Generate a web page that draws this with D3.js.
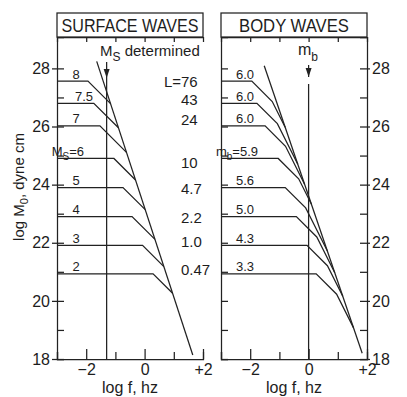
<!DOCTYPE html>
<html>
<head>
<meta charset="utf-8">
<script src="https://d3js.org/d3.v7.min.js"></script>
<style>
  body { margin: 0; background: #fff; }
  svg text { font-family: "Liberation Sans", Arial, sans-serif; fill: #1d1d1d; }
  .ln { fill: none; stroke: #222; stroke-width: 1.25; }
</style>
</head>
<body>
<svg class="chart"></svg>
<script>
// log M0 (dyne cm) of each spectrum, same set in both panels
const levels = [27.56, 26.8, 26.02, 24.9, 23.9, 22.9, 21.91, 20.93];

// surface waves
const surfaceMags = ['8', '7.5', '7', '6', '5', '4', '3', '2'];
const surfaceCorners = [-1.94, -1.74, -1.53, -1.05, -0.74, -0.43, -0.07, 0.29];
const faultLengths = ['76', '43', '24', '10', '4.7', '2.2', '1.0', '0.47'];
const surfaceEnvelope = [[-1.64, 28.24], [1.65, 18.14]];
const surfaceMeasureF = -1.3;

// body waves
const bodyMags = ['6.0', '6.0', '6.0', '5.9', '5.6', '5.0', '4.3', '3.3'];
const bodyCorners = [-1.945, -1.77, -1.49, -1.04, -0.8, -0.42, -0.055, 0.26];
const bodySecondCorner = 0.7; // log f2 - log f1
const bodyEnvelope = [[-1.52, 28.09], [1.835, 18.2]];
const bodyMeasureF = 0;

const xTicks = [-3, -2, -1, 0, 1, 2];
const yTicks = d3.range(18, 29);

const width = 407, height = 397;
const svg = d3.select('.chart').attr('width', width).attr('height', height);

const y = d3.scaleLinear().domain([18, 29.08]).range([359, 37]);

// walk a spectrum: flat, then the given slopes, until it meets the envelope
function spectrum(level, f1, segs, env){
  const k = (env[1][1] - env[0][1]) / (env[1][0] - env[0][0]);
  const pts = [[-3, level], [f1, level]];
  let f = f1, m = level;
  for (const s of segs) {
    const xi = (env[0][1] - k * env[0][0] - m + s.slope * f) / (s.slope - k);
    if (xi <= s.until) {
      pts.push([xi, m + s.slope * (xi - f)]);
      return pts;
    }
    m = m + s.slope * (s.until - f);
    f = s.until;
    pts.push([f, m]);
  }
  return pts;
}

function drawPanel(x0, x1, opts){
  const x = d3.scaleLinear().domain([-3, 2]).range([x0, x1]);
  const g = svg.append('g');
  const line = d3.line().x(d => x(d[0])).y(d => y(d[1]));

  // title box
  g.append('rect').attr('class', 'ln').attr('stroke-width', 1.3)
    .attr('x', x0).attr('y', 13).attr('width', x1 - x0).attr('height', 24);
  g.append('text').attr('x', (x0 + x1) / 2).attr('y', 32)
    .attr('text-anchor', 'middle').attr('font-size', 18)
    .attr('textLength', opts.titleLen).attr('lengthAdjust', 'spacingAndGlyphs')
    .text(opts.title);

  // bottom axis
  const bottom = g.append('g').attr('transform', `translate(0,${y(18)})`)
    .call(d3.axisBottom(x).tickValues(xTicks).tickSizeOuter(0).tickSize(-7).tickPadding(5)
      .tickFormat(d => d === -2 ? '\u22122' : d === 0 ? '0' : d === 2 ? '+2' : ''));
  bottom.selectAll('.tick line').attr('y2', d => d % 2 === 0 ? -10 : -7);
  bottom.selectAll('text').attr('font-size', 16).attr('fill', '#1d1d1d');

  // top axis
  g.append('g').attr('transform', `translate(0,${y.range()[1]})`)
    .call(d3.axisTop(x).tickValues([-2, -1, 0, 1]).tickSizeOuter(0).tickSize(-5).tickFormat(''));

  // left axis
  const left = g.append('g').attr('transform', `translate(${x0},0)`)
    .call(d3.axisLeft(y).tickValues(yTicks).tickSizeOuter(0).tickSize(-7).tickPadding(7)
      .tickFormat(d => opts.leftLabels && d % 2 === 0 ? d : ''));
  left.selectAll('.tick line').attr('x1', d => d % 2 === 0 && opts.leftLabels ? -5 : 0);
  left.selectAll('text').attr('font-size', 16);

  if (opts.rightAxis) {
    const right = g.append('g').attr('transform', `translate(${x1},0)`)
      .call(d3.axisRight(y).tickValues(yTicks).tickSizeOuter(0).tickSize(-7).tickPadding(5)
        .tickFormat(d => d % 2 === 0 ? d : ''));
    right.selectAll('.tick line').attr('x1', d => d % 2 === 0 ? 3 : 0);
    right.selectAll('text').attr('font-size', 16);
  }
  g.selectAll('.domain, .tick line').attr('stroke', '#222').attr('stroke-width', 1.25);

  // envelope
  g.append('path').attr('class', 'ln').attr('d', line(opts.envelope));

  // spectra
  g.selectAll('path.spec')
    .data(levels.map((lv, i) => spectrum(lv, opts.corners[i], opts.segs(opts.corners[i]), opts.envelope)))
    .join('path').attr('class', 'ln spec').attr('d', line);

  // measuring frequency line with arrow
  const xm = x(opts.measureF);
  g.append('line').attr('class', 'ln').attr('x1', xm).attr('x2', xm)
    .attr('y1', opts.arrowTop).attr('y2', opts.arrowTip);
  g.append('path').attr('fill', '#222')
    .attr('d', `M${xm - 3},${opts.arrowTip - 9}L${xm + 3},${opts.arrowTip - 9}L${xm},${opts.arrowTip}Z`);
  g.append('line').attr('class', 'ln').attr('x1', xm).attr('x2', xm)
    .attr('y1', opts.lineTop).attr('y2', y(18));

  // magnitude labels above each spectrum
  g.selectAll('text.mag')
    .data(opts.mags)
    .join('text').attr('class', 'mag')
    .attr('font-size', 13)
    .attr('x', (d, i) => i === 3 ? x0 + opts.specialEnd : x0 + (opts.magX[i] || opts.magX.def))
    .attr('text-anchor', (d, i) => i === 3 ? 'end' : 'middle')
    .attr('y', (d, i) => y(levels[i]) - 2.5)
    .each(function(d, i){
      const t = d3.select(this);
      if (i === 3) {
        t.append('tspan').text(opts.magSym);
        t.append('tspan').attr('font-size', 10).attr('dy', 4).text(opts.magSub);
        t.append('tspan').attr('dy', -4).text('=' + d);
      } else {
        t.text(d);
      }
    });

  // x axis title
  g.append('text').attr('x', (x0 + x1) / 2).attr('y', 393)
    .attr('text-anchor', 'middle').attr('font-size', 16).text('log f, hz');
  return x;
}

// surface waves panel
drawPanel(57, 203, {
  title: 'SURFACE WAVES', titleLen: 137,
  leftLabels: true, rightAxis: false,
  envelope: surfaceEnvelope, corners: surfaceCorners,
  segs: f1 => [{slope: -1, until: Infinity}],
  measureF: surfaceMeasureF, arrowTop: 62, arrowTip: 78, lineTop: 78,
  mags: surfaceMags, magX: {def: 19, 1: 27}, specialEnd: 27, magSym: 'M', magSub: 'S'
});

// body waves panel
drawPanel(221, 367, {
  title: 'BODY WAVES', titleLen: 110,
  leftLabels: false, rightAxis: true,
  envelope: bodyEnvelope, corners: bodyCorners,
  segs: f1 => [{slope: -1, until: f1 + bodySecondCorner}, {slope: -2, until: Infinity}],
  measureF: bodyMeasureF, arrowTop: 65, arrowTip: 77, lineTop: 84,
  mags: bodyMags, magX: {def: 24}, specialEnd: 37, magSym: 'm', magSub: 'b'
});

// fault length labels
const lShift = [0, -4, -6, 4, 1, 1, -4, -4];
svg.selectAll('text.len')
  .data(faultLengths)
  .join('text').attr('class', 'len')
  .attr('font-size', 15)
  .attr('x', 181)
  .attr('y', (d, i) => y(levels[i]) + lShift[i] + 5.5)
  .text(d => d);
svg.append('text').attr('x', 181).attr('y', y(levels[0]) + lShift[0] + 5.5)
  .attr('text-anchor', 'end').attr('font-size', 15).text('L=');

// "Ms determined" and "mb" headings
const ms = svg.append('text').attr('x', 100).attr('y', 56).attr('font-size', 15);
ms.append('tspan').text('M');
ms.append('tspan').attr('font-size', 12).attr('dy', 5).text('S');
ms.append('tspan').attr('dy', -5).text(' determined');

const mb = svg.append('text').attr('x', 298).attr('y', 55).attr('font-size', 16);
mb.append('tspan').text('m');
mb.append('tspan').attr('font-size', 12).attr('dy', 6).text('b');

// y axis title
const yl = svg.append('text').attr('transform', 'translate(24,187) rotate(-90)')
  .attr('text-anchor', 'middle').attr('font-size', 15);
yl.append('tspan').text('log M');
yl.append('tspan').attr('font-size', 11).attr('dy', 4).text('0');
yl.append('tspan').attr('dy', -4).text(', dyne cm');
</script>
</body>
</html>
